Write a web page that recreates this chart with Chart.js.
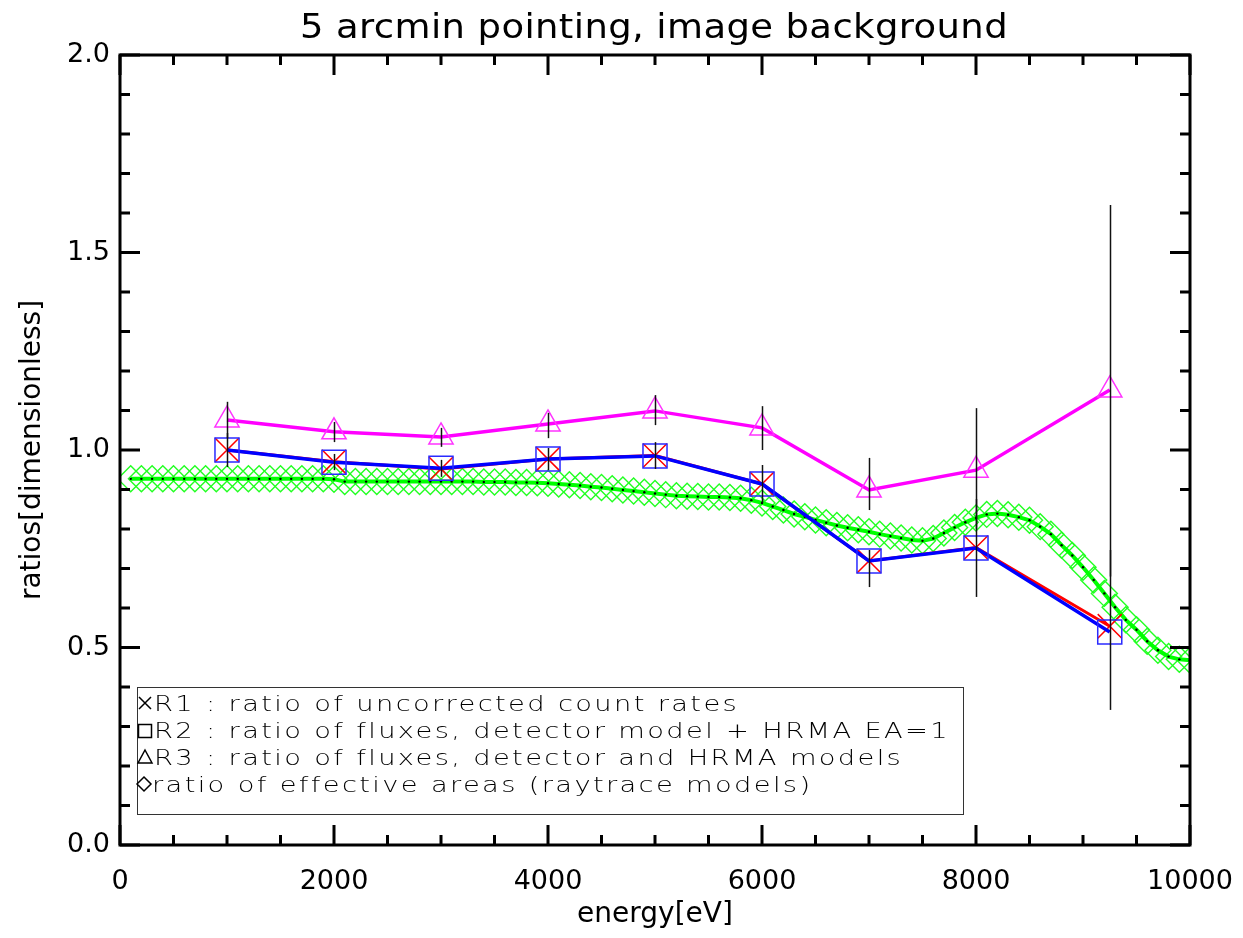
<!DOCTYPE html>
<html>
<head>
<meta charset="utf-8">
<script src="https://cdn.jsdelivr.net/npm/chart.js@4.4.0/dist/chart.umd.min.js"></script>
<style>
  html, body { margin: 0; padding: 0; background: #fff; }
  canvas { display: block; }
</style>
</head>
<body>
<canvas id="ratioChart" width="1243" height="938"></canvas>
<script>
// energies of the measured points [eV]
const energies = [1000, 2000, 3000, 4000, 5000, 6000, 7000, 8000, 9250];
// R1 : uncorrected count rates
const r1 = [1.000, 0.970, 0.952, 0.977, 0.986, 0.914, 0.719, 0.753, 0.554];
const r1Lo = [0.957, 0.949, 0.932, 0.949, 0.952, 0.866, 0.653, 0.628, 0.342];
const r1Hi = [1.043, 0.990, 0.975, 1.005, 1.020, 0.962, 0.747, 0.876, 0.747];
// R2 : fluxes, detector model + HRMA EA=1
const r2 = [1.000, 0.969, 0.954, 0.977, 0.985, 0.914, 0.719, 0.752, 0.539];
// R3 : fluxes, detector and HRMA models
const r3 = [1.076, 1.046, 1.033, 1.066, 1.099, 1.056, 0.899, 0.949, 1.152];
const r3Lo = [1.030, 1.020, 1.008, 1.030, 1.063, 1.000, 0.848, 0.800, 0.680];
const r3Hi = [1.122, 1.071, 1.056, 1.094, 1.139, 1.111, 0.980, 1.106, 1.620];

// raytrace effective area ratio, every 100 eV from 100 to 10000
const eaEnergies = [
  100, 200, 300, 400, 500, 600, 700, 800, 900, 1000,
  1100, 1200, 1300, 1400, 1500, 1600, 1700, 1800, 1900, 2000,
  2100, 2200, 2300, 2400, 2500, 2600, 2700, 2800, 2900, 3000,
  3100, 3200, 3300, 3400, 3500, 3600, 3700, 3800, 3900, 4000,
  4100, 4200, 4300, 4400, 4500, 4600, 4700, 4800, 4900, 5000,
  5100, 5200, 5300, 5400, 5500, 5600, 5700, 5800, 5900, 6000,
  6100, 6200, 6300, 6400, 6500, 6600, 6700, 6800, 6900, 7000,
  7100, 7200, 7300, 7400, 7500, 7600, 7700, 7800, 7900, 8000,
  8100, 8200, 8300, 8400, 8500, 8600, 8700, 8800, 8900, 9000,
  9100, 9200, 9300, 9400, 9500, 9600, 9700, 9800, 9900, 10000
];
const eaRatio = [
  0.927, 0.927, 0.927, 0.927, 0.927, 0.927, 0.927, 0.927, 0.927, 0.927,
  0.927, 0.927, 0.927, 0.927, 0.927, 0.927, 0.927, 0.927, 0.927, 0.926,
  0.920, 0.920, 0.920, 0.920, 0.920, 0.920, 0.920, 0.920, 0.920, 0.920,
  0.920, 0.920, 0.920, 0.919, 0.919, 0.919, 0.918, 0.918, 0.917, 0.916,
  0.914, 0.912, 0.910, 0.907, 0.905, 0.902, 0.899, 0.896, 0.893, 0.890,
  0.887, 0.884, 0.883, 0.882, 0.881, 0.881, 0.880, 0.878, 0.873, 0.866,
  0.857, 0.848, 0.838, 0.831, 0.823, 0.816, 0.809, 0.803, 0.798, 0.793,
  0.787, 0.782, 0.777, 0.772, 0.770, 0.776, 0.790, 0.804, 0.817, 0.828,
  0.837, 0.839, 0.836, 0.830, 0.822, 0.806, 0.787, 0.759, 0.733, 0.703,
  0.671, 0.637, 0.602, 0.570, 0.545, 0.516, 0.493, 0.477, 0.470, 0.468
];

const xTicks = [0, 2000, 4000, 6000, 8000, 10000];
const xTickLabels = ['0', '2000', '4000', '6000', '8000', '10000'];
const yTicks = [0, 0.5, 1.0, 1.5, 2.0];
const yTickLabels = ['0.0', '0.5', '1.0', '1.5', '2.0'];

const legendLabels = [
  'R1 : ratio of uncorrected count rates',
  'R2 : ratio of fluxes, detector model + HRMA EA=1',
  'R3 : ratio of fluxes, detector and HRMA models',
  'ratio of effective areas (raytrace models)'
];

const pts = (xs, ys) => xs.map((x, i) => ({ x: x, y: ys[i] }));

// letter spacing (px) that makes text fill the given width
function spacingFor(ctx, text, width) {
  ctx.letterSpacing = '0px';
  const w = ctx.measureText(text).width;
  return (width - w) / text.length;
}

// text stretched sideways (the plot font is a wide stroke font)
function wideText(ctx, text, x, y, stretch, spacing) {
  ctx.save();
  ctx.translate(x, y);
  ctx.scale(stretch, 1);
  ctx.letterSpacing = spacing + 'px';
  ctx.fillText(text, 0, 0);
  ctx.restore();
}

const whiteBg = {
  id: 'whiteBg',
  beforeDraw(chart) {
    const ctx = chart.ctx;
    ctx.save();
    ctx.fillStyle = '#fff';
    ctx.fillRect(0, 0, chart.width, chart.height);
    ctx.restore();
  }
};

// error bars, frame with inward ticks, title and boxed legend
const decorations = {
  id: 'decorations',
  afterDatasetsDraw(chart) {
    const { ctx, chartArea: a, scales: { x, y } } = chart;
    ctx.save();

    // error bars
    ctx.strokeStyle = '#111';
    ctx.lineWidth = 1.5;
    const bar = (lo, hi) => {
      energies.forEach((e, i) => {
        const px = Math.round(x.getPixelForValue(e)) + 0.5;
        ctx.beginPath();
        ctx.moveTo(px, y.getPixelForValue(lo[i]));
        ctx.lineTo(px, y.getPixelForValue(hi[i]));
        ctx.stroke();
      });
    };
    bar(r1Lo, r1Hi);
    bar(r3Lo, r3Hi);

    // ticks on all four sides, pointing inward
    ctx.strokeStyle = '#000';
    ctx.lineWidth = 3;
    for (let v = 0; v <= 10000; v += 500) {
      const px = x.getPixelForValue(v);
      const len = v % 2000 === 0 ? 20 : 10;
      ctx.beginPath();
      ctx.moveTo(px, a.bottom); ctx.lineTo(px, a.bottom - len);
      ctx.moveTo(px, a.top); ctx.lineTo(px, a.top + len);
      ctx.stroke();
    }
    for (let k = 0; k <= 20; k++) {
      const py = y.getPixelForValue(k / 10);
      const len = k % 5 === 0 ? 20 : 10;
      ctx.beginPath();
      ctx.moveTo(a.left, py); ctx.lineTo(a.left + len, py);
      ctx.moveTo(a.right, py); ctx.lineTo(a.right - len, py);
      ctx.stroke();
    }
    ctx.strokeRect(a.left, a.top, a.width, a.height);

    // title
    ctx.fillStyle = '#000';
    ctx.textAlign = 'left';
    ctx.textBaseline = 'alphabetic';
    const title = '5 arcmin pointing, image background';
    ctx.font = '33px "DejaVu Sans"';
    const ts = 1.12;
    wideText(ctx, title, 300, 38, ts, spacingFor(ctx, title, 708 / ts));

    // legend box
    ctx.fillStyle = '#fff';
    ctx.fillRect(137, 687, 827, 128);
    ctx.strokeStyle = '#333';
    ctx.lineWidth = 1;
    ctx.strokeRect(137.5, 687.5, 826, 127);

    ctx.fillStyle = '#000';
    ctx.font = '200 21px "DejaVu Sans"';
    const ls = 1.3;
    const sp = spacingFor(ctx, legendLabels[1], 796 / ls);
    const rows = [711, 738, 765, 792];
    const tx = [154, 154, 154, 152];
    legendLabels.forEach((t, i) => wideText(ctx, t, tx[i], rows[i], ls, sp));

    // legend symbols
    ctx.strokeStyle = '#000';
    ctx.lineWidth = 1.5;
    const sx = 145;
    ctx.beginPath();
    ctx.moveTo(sx - 6, 697); ctx.lineTo(sx + 6, 709);
    ctx.moveTo(sx + 6, 697); ctx.lineTo(sx - 6, 709);
    ctx.rect(sx - 6.5, 724.5, 13, 13);
    ctx.moveTo(sx, 750); ctx.lineTo(sx + 7, 763); ctx.lineTo(sx - 7, 763); ctx.closePath();
    ctx.moveTo(sx - 1, 777); ctx.lineTo(sx + 6, 784); ctx.lineTo(sx - 1, 791); ctx.lineTo(sx - 8, 784); ctx.closePath();
    ctx.stroke();

    ctx.restore();
  }
};

const tickFont = { family: 'DejaVu Sans', size: 27 };
const titleFont = { family: 'DejaVu Sans', size: 28 };

new Chart(document.getElementById('ratioChart'), {
  type: 'line',
  data: {
    datasets: [
      {
        label: 'R3',
        data: pts(energies, r3),
        borderColor: '#ff00ff',
        borderWidth: 3.5,
        pointStyle: 'triangle',
        pointRadius: 14,
        pointBorderColor: '#ff33ff',
        pointBackgroundColor: 'rgba(0,0,0,0)',
        pointBorderWidth: 1.5,
        tension: 0
      },
      {
        label: 'R2',
        data: pts(energies, r2),
        borderColor: '#0000ff',
        borderWidth: 3.5,
        pointStyle: 'rect',
        pointRadius: 17,
        pointBorderColor: '#2a2aff',
        pointBackgroundColor: 'rgba(0,0,0,0)',
        pointBorderWidth: 1.5,
        tension: 0
      },
      {
        label: 'R1',
        data: pts(energies, r1),
        borderColor: '#ff0000',
        borderWidth: 3,
        pointStyle: 'crossRot',
        pointRadius: 17,
        pointBorderColor: '#ff0000',
        pointBorderWidth: 1.5,
        tension: 0
      },
      {
        label: 'EA line',
        data: pts(eaEnergies, eaRatio),
        borderColor: '#00ff00',
        borderWidth: 4,
        pointStyle: 'circle',
        pointRadius: 1.2,
        pointBorderWidth: 0,
        pointBackgroundColor: '#000',
        tension: 0
      },
      {
        label: 'EA',
        data: pts(eaEnergies, eaRatio),
        showLine: false,
        pointStyle: 'rectRot',
        pointRadius: 13,
        pointBorderColor: '#22ff22',
        pointBackgroundColor: 'rgba(0,0,0,0)',
        pointBorderWidth: 1.4
      }
    ]
  },
  options: {
    responsive: false,
    animation: false,
    devicePixelRatio: 1,
    layout: { padding: { left: 0, right: 53, top: 55, bottom: 0 } },
    plugins: {
      legend: { display: false },
      tooltip: { enabled: false },
      title: { display: false }
    },
    scales: {
      x: {
        type: 'linear',
        min: 0,
        max: 10000,
        afterBuildTicks: (s) => { s.ticks = xTicks.map(v => ({ value: v })); },
        afterFit: (s) => { s.height = 93; s.paddingLeft = 0; s.paddingRight = 0; },
        grid: { display: false, drawTicks: false },
        border: { display: false },
        ticks: { font: tickFont, color: '#000', padding: 21, maxRotation: 0, callback: (v, i) => xTickLabels[i] },
        title: { display: true, text: 'energy[eV]', font: titleFont, color: '#000', padding: { top: 0, bottom: 6 } }
      },
      y: {
        type: 'linear',
        min: 0,
        max: 2,
        afterBuildTicks: (s) => { s.ticks = yTicks.map(v => ({ value: v })); },
        afterFit: (s) => { s.width = 120; s.paddingTop = 0; s.paddingBottom = 0; },
        grid: { display: false, drawTicks: false },
        border: { display: false },
        ticks: { font: tickFont, color: '#000', padding: 10, callback: (v, i) => yTickLabels[i] },
        title: { display: true, text: 'ratios[dimensionless]', font: titleFont, color: '#000', padding: { top: 16, bottom: 0 } }
      }
    }
  },
  plugins: [whiteBg, decorations]
});
</script>
</body>
</html>
